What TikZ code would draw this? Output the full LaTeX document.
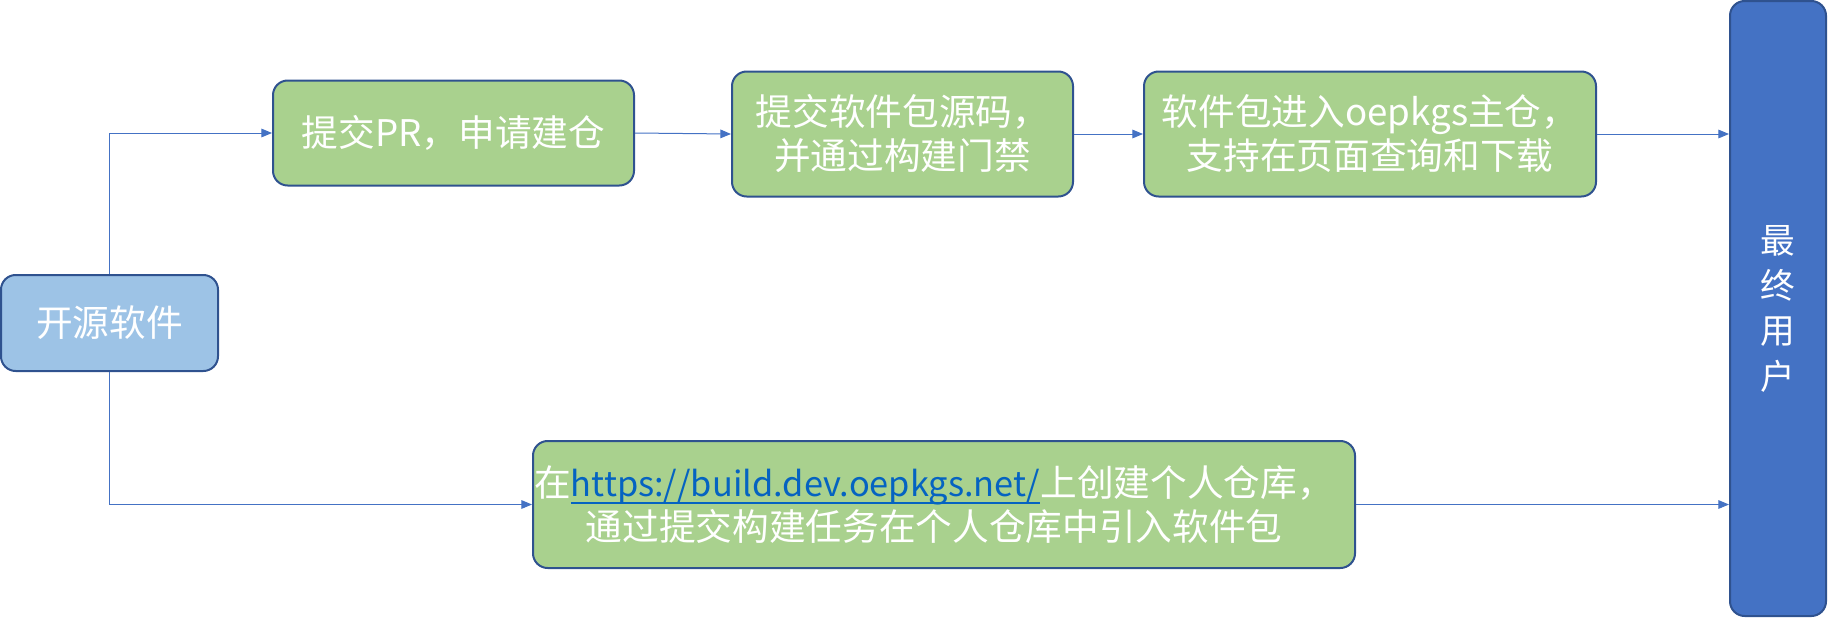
\documentclass[tikz,border=0pt]{standalone}
\usepackage{fontspec}
\setmainfont{Noto Sans CJK SC}
\usetikzlibrary{arrows.meta}
\newcommand\linkline[1]{\setbox0\hbox{#1}\rlap{\rule[-5.5pt]{\wd0}{1.3pt}}\box0}

\tikzset{every picture/.style={line width=0.75pt}}
\tikzset{
  stagebox/.style={draw={rgb, 255:red, 47; green, 82; blue, 143 }, fill={rgb, 255:red, 169; green, 209; blue, 142 }, line width=1.5pt, rounded corners=11pt, text={rgb, 255:red, 255; green, 255; blue, 255 }, align=center, inner sep=0pt, font=\fontsize{27.5pt}{33pt}\selectfont},
  flowline/.style={draw={rgb, 255:red, 68; green, 114; blue, 196 }, line width=0.75pt, -{Triangle[length=8pt,width=6.5pt]}},
}

\begin{document}
\begin{tikzpicture}[x=0.75pt,y=0.75pt,yscale=-1,xscale=1]
\useasboundingbox (0,0) rectangle (1828,618);

%Shape: Rounded Rect [id:src]
\node [stagebox, fill={rgb, 255:red, 157; green, 195; blue, 230 }, minimum width=162.75pt, minimum height=72pt] (src) at (109.5,323) {开源软件};
%Shape: Rounded Rect [id:pr]
\node [stagebox, minimum width=270.75pt, minimum height=78.75pt] (pr) at (453.5,133) {提交PR，申请建仓};
%Shape: Rounded Rect [id:gate]
\node [stagebox, minimum width=255.75pt, minimum height=93.75pt] (gate) at (902.5,134) {提交软件包源码，\\并通过构建门禁};
%Shape: Rounded Rect [id:repo]
\node [stagebox, minimum width=339pt, minimum height=93.75pt] (repo) at (1370,134) {软件包进入oepkgs主仓，\\支持在页面查询和下载};
%Shape: Rounded Rect [id:own]
\node [stagebox, minimum width=616.5pt, minimum height=95.25pt] (own) at (944,504.5) {在\textcolor[RGB]{5,99,193}{\linkline{\fontsize{25.8pt}{33pt}\selectfont https://build.dev.oepkgs.net/}}上创建个人仓库，\kern15pt\\通过提交构建任务在个人仓库中引入软件包\kern15pt};
%Shape: Rounded Rect [id:user]
\node [stagebox, fill={rgb, 255:red, 68; green, 114; blue, 196 }, minimum width=72pt, minimum height=461.25pt, font=\fontsize{26pt}{34pt}\selectfont] (user) at (1778,308.5) {最\\终\\用\\户};

%Straight Lines
\draw [flowline] (src.north) |- (pr.west);
\draw [flowline] (src.south) |- (own.west);
\draw [flowline] (pr.east) -- (gate.west);
\draw [flowline] (gate.east) -- (repo.west);
\draw [flowline] (repo.east) -- (repo.east -| user.west);
\draw [flowline] (own.east) -- (own.east -| user.west);

\end{tikzpicture}
\end{document}
